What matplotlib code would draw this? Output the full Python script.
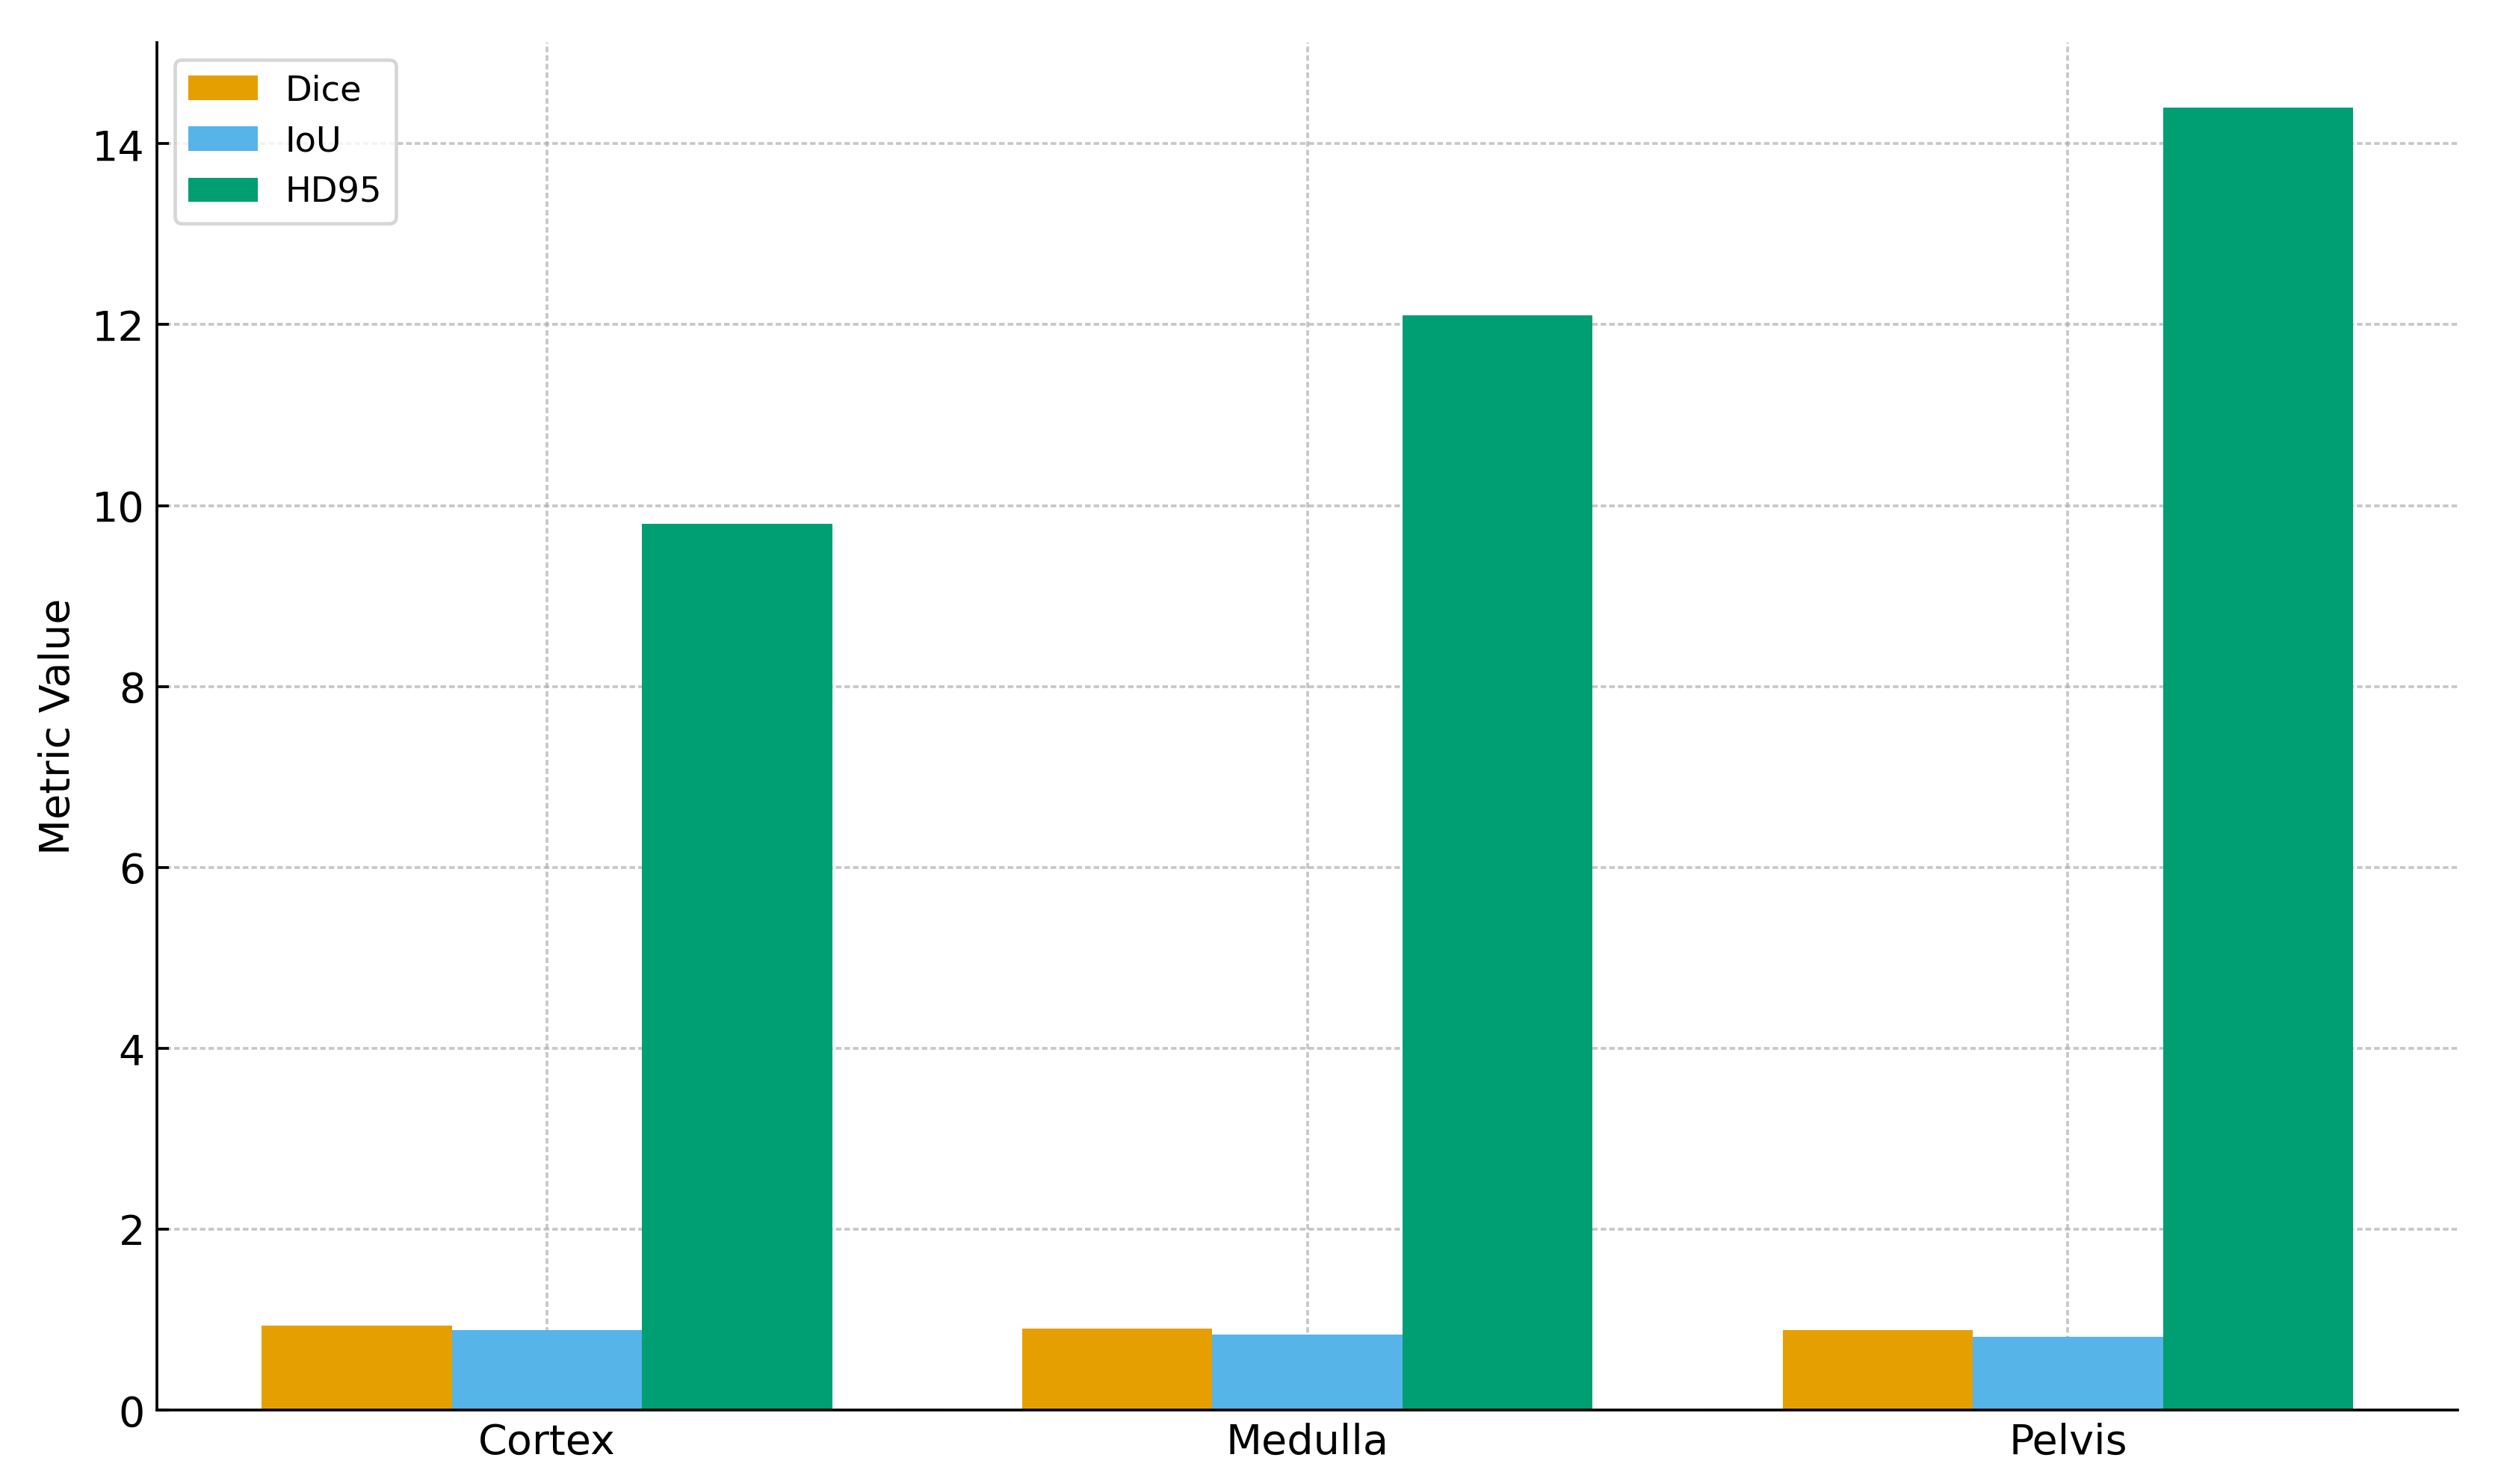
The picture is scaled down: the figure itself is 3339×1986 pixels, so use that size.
import numpy as np
import matplotlib
matplotlib.use("Agg")
import matplotlib.pyplot as plt

# Data
regions = ["Cortex", "Medulla", "Pelvis"]
dice = [0.935, 0.90, 0.88]
iou = [0.88, 0.835, 0.81]
hd95 = [9.8, 12.1, 14.4]

colors = ["#E69F00", "#56B4E9", "#009E73"]

x = np.arange(len(regions))
width = 0.25

fig = plt.figure(figsize=(10, 5.95), dpi=333.9)
ax = fig.add_axes([0.063, 0.05, 0.922, 0.921])

ax.bar(x - width, dice, width, label="Dice", color=colors[0])
ax.bar(x, iou, width, label="IoU", color=colors[1])
ax.bar(x + width, hd95, width, label="HD95", color=colors[2])

ax.set_xticks(x)
ax.set_xticklabels(regions, fontsize=12)
ax.tick_params(axis="y", labelsize=12)
ax.tick_params(direction="in")
ax.set_ylabel("Metric Value", fontsize=12)

# short dashed grid, like the reference
ax.grid(True, linestyle=(0, (2.0, 1.1)), color="#b0b0b0", alpha=0.7, linewidth=0.8)
ax.set_axisbelow(True)
for side in ["top", "right"]:
    ax.spines[side].set_visible(False)

ax.legend(loc="upper left", fontsize=10)

fig.savefig("out.png", dpi=333.9)
